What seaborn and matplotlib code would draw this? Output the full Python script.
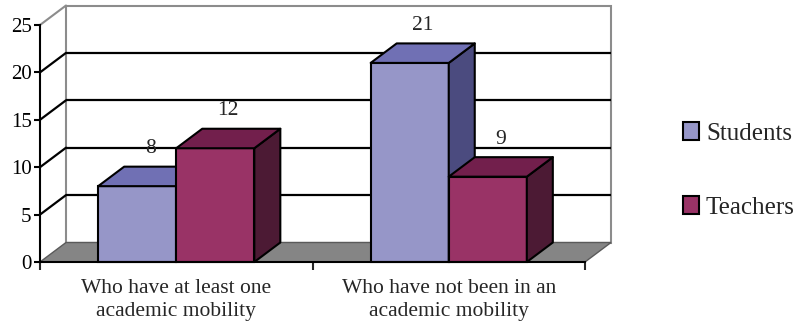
import numpy as np
import pandas as pd
import matplotlib
matplotlib.use("Agg")
import matplotlib.pyplot as plt
from matplotlib.patches import Polygon, Rectangle, Patch
import seaborn as sns

# ---------------- data ----------------
categories = ["Who have at least one\nacademic mobility",
              "Who have not been in an\nacademic mobility"]
series = ["Students", "Teachers"]
students = [8, 21]
teachers = [12, 9]
y_ticks = [0, 5, 10, 15, 20, 25]

# ---------------- style ----------------
front_colors = {"Students": "#9696C8", "Teachers": "#993366"}
top_colors = {"Students": "#7070B4", "Teachers": "#721F4C"}
side_colors = {"Students": "#4B4B7F", "Teachers": "#4C1A34"}
floor_color = "#858585"
wall_edge = "#8C8C8C"
DEPTH_PX = (26.0, 19.5)  # 3-D depth offset in pixels

sns.set_style("white")
plt.rcParams["font.family"] = ["Liberation Serif", "DejaVu Serif"]

df = pd.DataFrame({
    "group": categories * 2,
    "series": [series[0]] * len(categories) + [series[1]] * len(categories),
    "value": students + teachers,
})

W, H, DPI = 7.99, 3.28, 100
fig = plt.figure(figsize=(W, H), dpi=DPI)
ax = fig.add_axes([40 / 799, 66 / 328, 545 / 799, 237 / 328])

sns.barplot(data=df, x="group", y="value", hue="series", order=categories,
            hue_order=series, palette=[front_colors[s] for s in series],
            width=0.573, edgecolor="black", linewidth=1.5, errorbar=None,
            legend=False, ax=ax, saturation=1)

ax.set_xlim(-0.5, len(categories) - 0.5)
ax.set_ylim(0, 25)

# depth offsets in data units
ax_w_px = 545.0
ax_h_px = 237.0
dx = DEPTH_PX[0] / (ax_w_px / (len(categories)))
dy = DEPTH_PX[1] / (ax_h_px / 25.0)

x0, x1 = ax.get_xlim()
ymax = 25

# back wall
ax.add_patch(Rectangle((x0 + dx, dy), (x1 - x0), ymax, facecolor="white",
                       edgecolor=wall_edge, linewidth=1.5, zorder=0.5, clip_on=False))
# gridlines on back wall + side wall diagonals
for t in y_ticks[1:-1]:
    ax.plot([x0 + dx, x1 + dx], [t + dy, t + dy], color="black", lw=1.6,
            zorder=0.6, clip_on=False, solid_capstyle="butt")
    ax.plot([x0, x0 + dx], [t, t + dy], color="black", lw=1.6, zorder=0.6,
            clip_on=False)
ax.plot([x0, x0 + dx], [ymax, ymax + dy], color=wall_edge, lw=1.5, zorder=0.6,
        clip_on=False)
# floor
ax.add_patch(Polygon([(x0, 0), (x1, 0), (x1 + dx, dy), (x0 + dx, dy)],
                     closed=True, facecolor=floor_color, edgecolor="#5A5A5A",
                     linewidth=1.0, zorder=0.7, clip_on=False))

# 3-D faces for bars
bars = [p for p in ax.patches if isinstance(p, Rectangle) and p.get_width() < 0.5]
bars = sorted(bars, key=lambda p: p.get_x())
values_by_bar = {}
for si, s in enumerate(series):
    vals = students if s == "Students" else teachers
    for ci in range(len(categories)):
        values_by_bar[(ci, si)] = vals[ci]

for i, p in enumerate(bars):
    z = 2 + i * 0.1
    bx, bw, bh = p.get_x(), p.get_width(), p.get_height()
    cx = bx + bw / 2
    ci = int(round(cx))
    si = 0 if cx < ci else 1
    s = series[si]
    p.set_zorder(z)
    p.set_clip_on(False)
    top = Polygon([(bx, bh), (bx + bw, bh), (bx + bw + dx, bh + dy), (bx + dx, bh + dy)],
                  closed=True, facecolor=top_colors[s], edgecolor="black",
                  linewidth=1.5, zorder=z, clip_on=False, joinstyle="round")
    side = Polygon([(bx + bw, 0), (bx + bw + dx, dy), (bx + bw + dx, bh + dy), (bx + bw, bh)],
                   closed=True, facecolor=side_colors[s], edgecolor="black",
                   linewidth=1.5, zorder=z, clip_on=False, joinstyle="round")
    ax.add_patch(side)
    ax.add_patch(top)
    ax.annotate(f"{values_by_bar[(ci, si)]:g}", xy=(cx + dx / 2, bh + dy),
                xytext=(0, 6), textcoords="offset points", ha="center",
                va="bottom", fontsize=15.5, zorder=5, annotation_clip=False)

# axes / ticks
for sp in ["top", "right"]:
    ax.spines[sp].set_visible(False)
for sp in ["left", "bottom"]:
    ax.spines[sp].set_color("black")
    ax.spines[sp].set_linewidth(1.5)
    ax.spines[sp].set_zorder(3)

ax.set_yticks(y_ticks)
ax.tick_params(axis="y", direction="out", length=4, width=1.5, pad=2,
               labelsize=15, colors="black", left=True)
ax.set_xticks(range(len(categories)))
ax.set_xticklabels(categories, fontsize=15.5, linespacing=1.32)
ax.set_xticks(np.arange(-0.5, len(categories), 1.0), minor=True)
ax.tick_params(axis="x", which="major", length=0, pad=12, bottom=True)
ax.tick_params(axis="x", which="minor", length=6, width=1.5, direction="out",
               bottom=True)
ax.set_xlabel("")
ax.set_ylabel("")
ax.grid(False)

handles = [Patch(facecolor=front_colors[s], edgecolor="black", linewidth=1.5, label=s)
           for s in series]
fig.legend(handles=handles, loc="center left", bbox_to_anchor=(683 / 799, 0.48),
           frameon=False, fontsize=18, handlelength=0.64, handleheight=0.72,
           handletextpad=0.28, labelspacing=2.05, borderpad=0, borderaxespad=0)

fig.savefig("out.png", dpi=DPI)
